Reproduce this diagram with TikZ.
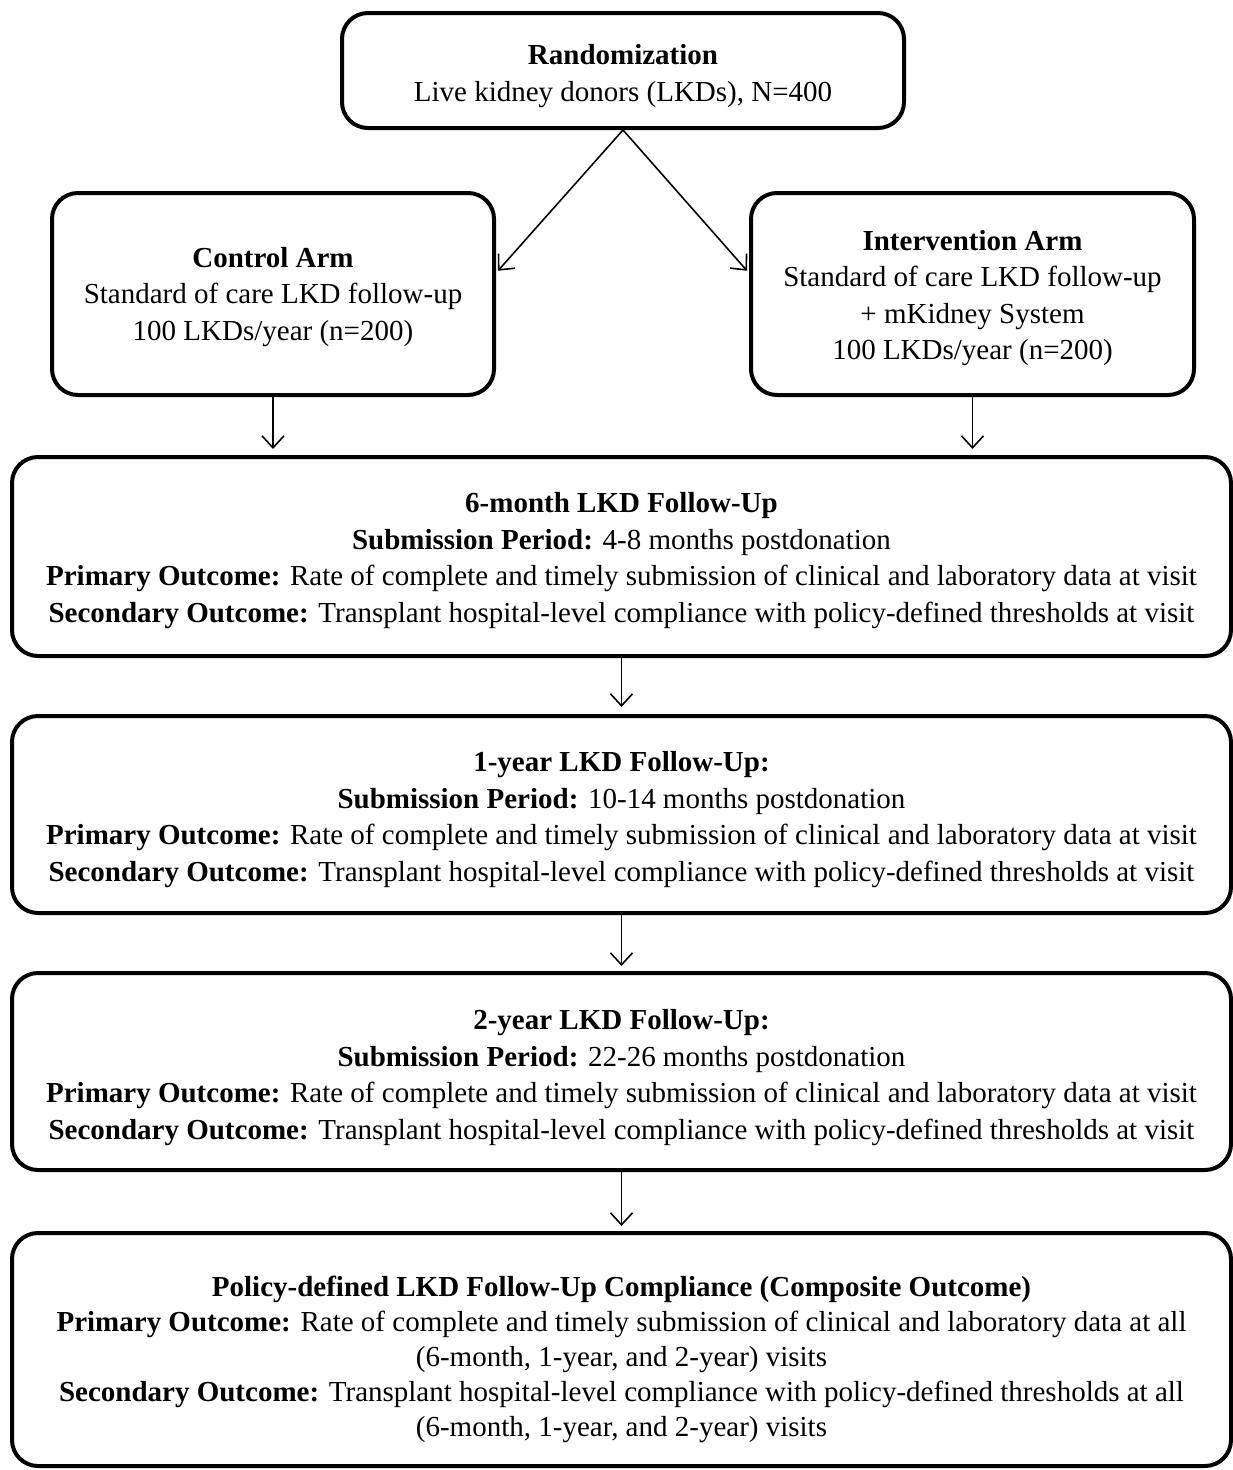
\documentclass[tikz,border=0pt]{standalone}
\usepackage{fontspec}
\setmainfont{Liberation Serif}
\usetikzlibrary{arrows.meta}
\begin{document}
\begin{tikzpicture}[x=1pt,y=-1pt,
  box/.style={draw=black, line width=4pt, rounded corners=26pt, inner sep=0pt},
  txt/.style={align=center, inner sep=0pt, font=\fontsize{29}{36.5}\selectfont},
  conn/.style={line width=1.6pt, -{Straight Barb[length=12pt,width=22pt,line width=1.6pt]}}]
\useasboundingbox (0,0) rectangle (1233,1470);
\fill[white] (0,0) rectangle (1233,1470);
\node[box, minimum width=562pt, minimum height=115pt,
  label={[txt, name=randT, yshift=-5.5pt]center:{\textbf{Randomization}\\Live kidney donors (LKDs), N=400}}]
  (rand) at (623,70.5) {};
\node[box, minimum width=442pt, minimum height=202pt,
  label={[txt, name=ctrlT, yshift=-3pt]center:{\textbf{Control Arm}\\Standard of care LKD follow-up\\100 LKDs/year (n=200)}}]
  (ctrl) at (273,294) {};
\node[box, minimum width=443pt, minimum height=202pt,
  label={[txt, name=intvT, yshift=-4pt]center:{\textbf{Intervention Arm}\\Standard of care LKD follow-up\\+ mKidney System\\100 LKDs/year (n=200)}}]
  (intv) at (972.5,294) {};
\node[box, minimum width=1219pt, minimum height=199pt,
  label={[txt, name=m6T, yshift=-4pt]center:{\textbf{6-month LKD Follow-Up}\\\textbf{Submission Period:} 4-8 months postdonation\\
   \textbf{Primary Outcome:} Rate of complete and timely submission of clinical and laboratory data at visit\\
   \textbf{Secondary Outcome:} Transplant hospital-level compliance with policy-defined thresholds at visit}}]
  (m6) at (621.5,556.5) {};
\node[box, minimum width=1219pt, minimum height=197pt,
  label={[txt, name=y1T, yshift=-5pt]center:{\textbf{1-year LKD Follow-Up:}\\\textbf{Submission Period:} 10-14 months postdonation\\
   \textbf{Primary Outcome:} Rate of complete and timely submission of clinical and laboratory data at visit\\
   \textbf{Secondary Outcome:} Transplant hospital-level compliance with policy-defined thresholds at visit}}]
  (y1) at (621.5,814.5) {};
\node[box, minimum width=1219pt, minimum height=197pt,
  label={[txt, name=y2T, yshift=-6pt]center:{\textbf{2-year LKD Follow-Up:}\\\textbf{Submission Period:} 22-26 months postdonation\\
   \textbf{Primary Outcome:} Rate of complete and timely submission of clinical and laboratory data at visit\\
   \textbf{Secondary Outcome:} Transplant hospital-level compliance with policy-defined thresholds at visit}}]
  (y2) at (621.5,1071.5) {};
\node[box, minimum width=1219pt, minimum height=233pt,
  label={[txt, name=compT, yshift=-10pt, font=\fontsize{29}{35}\selectfont]center:{\textbf{Policy-defined LKD Follow-Up Compliance (Composite Outcome)}\\
   \textbf{Primary Outcome:} Rate of complete and timely submission of clinical and laboratory data at all\\
   (6-month, 1-year, and 2-year) visits\\
   \textbf{Secondary Outcome:} Transplant hospital-level compliance with policy-defined thresholds at all\\
   (6-month, 1-year, and 2-year) visits}}]
  (comp) at (621.5,1349.5) {};
\draw[conn, shorten >=3pt] (rand.south) -- ([yshift=21pt]ctrl.east);
\draw[conn, shorten >=3pt] (rand.south) -- ([yshift=21pt]intv.west);
\draw[conn] (ctrl.south) -- ([yshift=6pt]ctrl.south |- m6.north);
\draw[conn] (intv.south) -- ([yshift=6pt]intv.south |- m6.north);
\draw[conn] (m6.south) -- ([yshift=7pt]y1.north);
\draw[conn] (y1.south) -- ([yshift=5pt]y2.north);
\draw[conn] (y2.south) -- ([yshift=5pt]comp.north);
\end{tikzpicture}
\end{document}
